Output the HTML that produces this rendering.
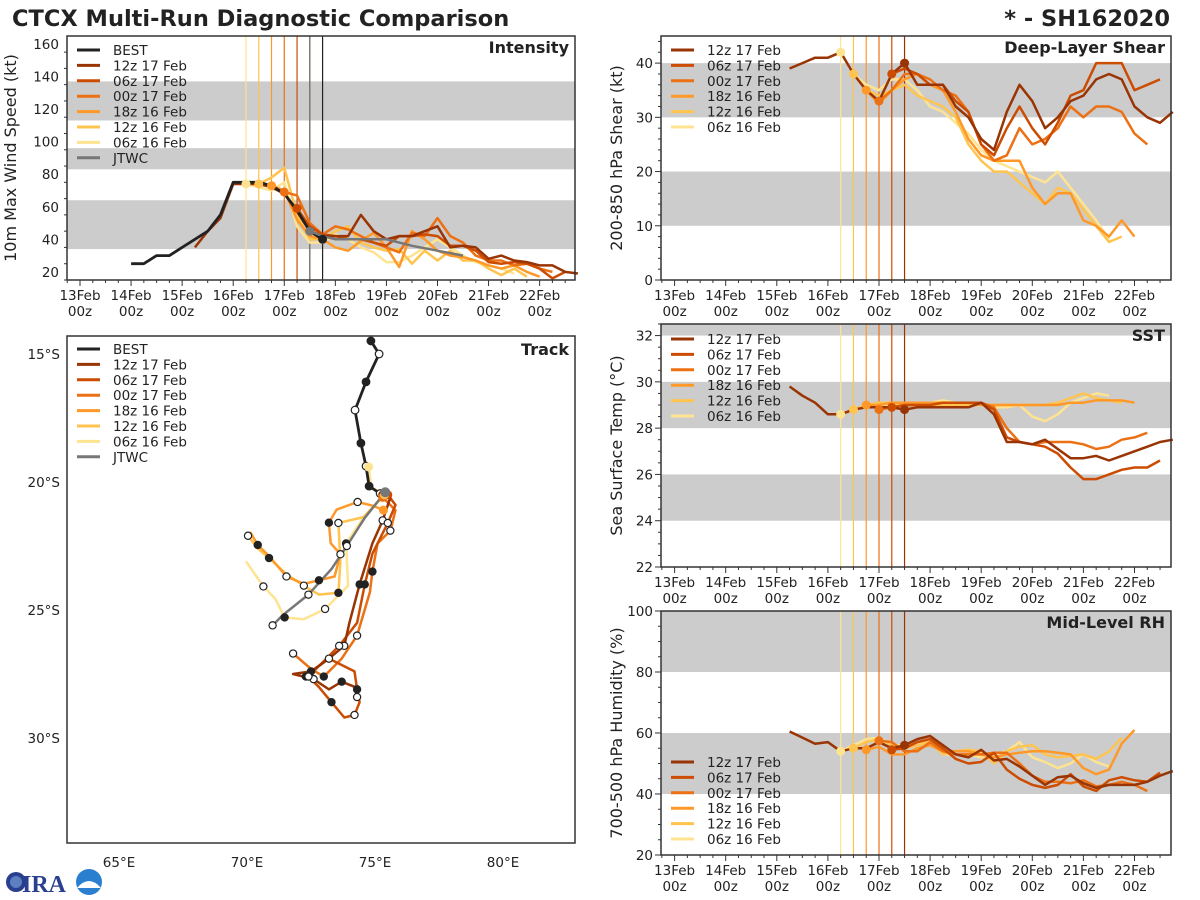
<!DOCTYPE html>
<html><head><meta charset="utf-8"><title>CTCX Multi-Run Diagnostic Comparison</title>
<style>
html,body{margin:0;padding:0;background:#fff;}
svg{display:block;font-family:"DejaVu Sans","Liberation Sans",sans-serif;}
</style></head>
<body>
<svg id="fig" width="1200" height="900" viewBox="0 0 1200 900" xmlns="http://www.w3.org/2000/svg">
<text x="12" y="26" font-size="22.5" font-weight="bold" fill="#222">CTCX Multi-Run Diagnostic Comparison</text>
<text x="1170" y="26" font-size="22.5" font-weight="bold" fill="#222" text-anchor="end">* - SH162020</text>
<g>
<circle cx="16" cy="882" r="10" fill="#2a3f8f"/>
<circle cx="16" cy="882" r="6" fill="#5b7fbf"/>
<text x="22" y="892" font-size="24" font-weight="bold" fill="#2a3f8f" font-family="Liberation Serif,serif">IRA</text>
<circle cx="89" cy="882" r="13" fill="#2b7fcf"/>
<path d="M77 888 Q89 874 101 888 Z" fill="#fff"/>
</g>
</svg>
<script>
const runLabels = ['12z 17 Feb','06z 17 Feb','00z 17 Feb','18z 16 Feb','12z 16 Feb','06z 16 Feb'];
const runColors = ['#993404','#cc4c02','#ec7014','#fe9929','#fec44f','#fee391'];
const runInits = [17.5,17.25,17.0,16.75,16.5,16.25];
const runStarts = [15.25,17.25,17.0,16.75,16.5,16.25];
const dayTicks = [13,14,15,16,17,18,19,20,21,22];
const dayTickLabels = ['13Feb','14Feb','15Feb','16Feb','17Feb','18Feb','19Feb','20Feb','21Feb','22Feb'];

const bestIntStart = 14.0;
const bestInt = [25,25,30,30,35,40,45,55,75,75,75,73,68,58,45,40];
const jtwcIntTimes = [17.5,17.75,18,18.5,19,19.5,20,20.5];
const jtwcInt = [45,42,40,40,40,36,33,30];
const int12z17 = [35,45,53,74,74,74,72,68,57,45,42,42,42,55,45,40,42,42,45,48,35,36,35,28,30,27,26,24,24,20,19];
const int06z17 = [59,48,43,42,40,40,38,36,42,42,43,42,36,36,33,26,25,26,25,22,16,20];
const int00z17 = [69,67,50,43,48,46,42,38,35,32,44,42,53,42,38,30,27,27,24,25,22,20];
const int18z16 = [73,70,52,42,40,35,33,39,44,35,23,45,40,33,30,29,27,24,22,24,20,17];
const int12z16 = [74,78,84,55,40,40,45,48,38,35,33,34,25,33,27,33,27,27,22,18,22,17];
const int06z16 = [74,72,70,75,48,38,38,43,40,35,32,26,26,30,35,40,35,30,26,24,22,19];

const shr12z17 = [39,40,41,41,42,38,35,33,38,40,36,36,36,32,30,26,24,31,36,33,28,30,33,34,37,38,37,32,30,29,31];
const shr06z17 = [38,39,38,36,36,33,31,25,23,28,32,28,25,29,34,35,40,40,40,35,36,37];
const shr00z17 = [33,35,38,38,37,35,34,31,25,22,23,28,25,26,28,32,30,32,32,31,27,25];
const shr18z16 = [35,32.5,35,37,38,36,35,31,26,23,22,22,22,17,14,16,16,11,10,8,11,8];
const shr12z16 = [38,35,34,35,36,34,33,32,30,25,22,20,20,18,16,14,17,16,13,10,7,8];
const shr06z16 = [42,38,36,35,37,37,35,32,31,29,27,24,22,21,20,19,18,20,17,14,11,7.5];

const sst12z17 = [29.8,29.4,29.1,28.6,28.6,28.8,28.9,28.9,28.9,28.8,28.9,28.9,28.9,28.9,28.9,29.1,28.6,27.4,27.4,27.3,27.5,27.1,26.7,26.7,26.8,26.6,26.8,27.0,27.2,27.4,27.5];
const sst06z17 = [28.9,29.0,29.0,29.0,29.1,29.1,29.1,29.1,28.8,27.6,27.4,27.3,27.2,26.9,26.3,25.8,25.8,26.0,26.2,26.3,26.3,26.6];
const sst00z17 = [28.8,28.9,29.0,29.0,29.0,29.1,29.1,29.1,29.1,28.9,28.0,27.4,27.3,27.4,27.4,27.4,27.3,27.1,27.2,27.5,27.6,27.8];
const sst18z16 = [29.0,29.0,29.1,29.1,29.1,29.1,29.1,29.1,29.1,29.0,29.0,29.0,29.0,29.0,29.0,29.0,29.1,29.1,29.2,29.2,29.2,29.1];
const sst12z16 = [28.8,29.0,29.1,29.1,29.0,29.0,29.0,29.0,29.0,29.0,29.0,29.0,29.0,29.0,29.0,29.0,29.1,29.3,29.5,29.3,29.2,29.1];
const sst06z16 = [28.6,28.8,28.9,29.0,29.0,29.1,29.1,29.1,29.2,29.1,29.0,29.0,28.9,28.9,29.0,28.5,28.3,28.6,29.1,29.3,29.5,29.4];

const rh12z17 = [60.5,58.5,56.5,57,54,55,55,57,55,56,58,59,56,53,52,54.5,51,51.5,49,46,43,45.5,46,43.5,42,43,43,43,44,46,47.5];
const rh06z17 = [54.5,55,57,58,55,51.5,50,50.5,53.5,48,45,43,42,43,46.5,42.5,41,44.5,45.5,44.5,44,47];
const rh00z17 = [57.5,57,54,54,57,54,53,53,53,53.5,53.5,50,46,44,44,43.5,44.5,42.5,43,44,43,41];
const rh18z16 = [54.5,55.5,53,53,55,56,54,54,54,53,52,53,53.5,54,54,53.5,53,48.5,46.5,48,56.5,61];
const rh12z16 = [55,57,58,56,55,56,57,53,54,54.5,54,50,54,55.5,56,53,52,52.5,53,51.5,54,58.5];
const rh06z16 = [54,56,58,58.5,56,56,56.5,57.5,53,53,53,52,53,54,57,52,50.5,48.5,50,53,50.5,49];

const trackBest = [[74.84,14.49],[75.16,15.0],[74.65,16.09],[74.22,17.19],[74.45,18.48],[74.65,19.38],[74.77,20.16],[75.2,20.45]];
const track12z17 = [[75.3,20.5],[75.6,20.6],[75.3,21.5],[74.9,22.4],[74.4,24.0],[74.0,25.5],[73.8,26.4],[73.2,26.9],[72.5,27.4],[71.8,27.5],[72.6,27.7],[73.2,28.1],[73.7,27.8],[74.2,28.0],[74.3,28.4]];
const track06z17 = [[75.5,20.5],[75.8,20.9],[75.5,21.6],[74.9,22.8],[74.6,24.0],[74.3,25.5],[73.6,26.4],[72.6,27.4],[72.3,27.6],[72.8,27.2],[73.2,26.9],[74.2,27.4],[74.3,28.1],[74.4,28.6],[74.2,29.1],[73.8,29.2],[73.3,28.6],[72.8,28.0],[72.4,27.6]];
const track00z17 = [[75.3,20.6],[75.8,21.1],[75.6,21.9],[75.1,22.4],[74.9,23.5],[74.8,24.3],[74.3,26.0],[73.7,26.9],[73.0,27.6],[72.5,27.3],[71.8,26.7]];
const track18z16 = [[75.33,21.1],[74.93,20.93],[74.32,20.78],[73.5,21.08],[73.2,21.59],[73.27,22.39],[73.65,22.82],[73.42,23.69],[72.81,23.84],[72.22,23.98],[71.54,23.69],[70.86,22.89],[70.42,22.46],[70.12,21.95]];
const track12z16 = [[75.37,20.5],[74.55,21.37],[73.57,21.6],[73.65,23.1],[73.57,24.33],[72.81,24.4],[72.22,24.05],[71.54,23.6],[70.86,22.97],[70.42,22.6],[70.04,22.1]];
const track06z16 = [[74.75,19.41],[74.85,20.2],[75.37,20.5],[74.47,21.5],[73.87,22.4],[73.95,24.05],[73.05,24.96],[72.22,25.36],[71.47,25.29],[71.1,24.56],[70.64,24.08],[69.96,23.1]];
const trackJtwc = [[75.4,20.4],[74.6,21.4],[73.9,22.5],[73.3,23.4],[72.4,24.4],[71.4,25.2],[71.0,25.6]];
const lonTicks = [65,70,75,80];
const latTicks = [15,20,25,30];

const NS='http://www.w3.org/2000/svg';
const fig=document.getElementById('fig');
function mk(tag,attrs,parent){const e=document.createElementNS(NS,tag);for(const k in attrs)e.setAttribute(k,attrs[k]);(parent||fig).appendChild(e);return e;}
function txt(s,attrs,parent){const e=mk('text',attrs,parent);e.textContent=s;return e;}

function tsPanel(cfg){
  const g=mk('g',{});
  
  
  const xs=d=>cfg.x0+(d-13)*cfg.ppd;
  const ys=v=>cfg.bottom-(v-cfg.ymin)/(cfg.ymax-cfg.ymin)*(cfg.bottom-cfg.top);
  mk('rect',{x:cfg.left,y:cfg.top,width:cfg.right-cfg.left,height:cfg.bottom-cfg.top,fill:'#fff'},g);
  cfg.bands.forEach(b=>{
    const r=mk('rect',{x:cfg.left,y:ys(Math.min(b[1],cfg.ymax)),width:cfg.right-cfg.left,height:ys(b[0])-ys(Math.min(b[1],cfg.ymax)),fill:'#cccccc'},g);
    
    
  });
  runInits.forEach((t,i)=>{
    const l=mk('line',{x1:xs(t),x2:xs(t),y1:cfg.top,y2:cfg.bottom,stroke:runColors[i],'stroke-width':1.2},g);
    
    
  });
  if(cfg.extraLines){cfg.extraLines.forEach(e=>{
    const l=mk('line',{x1:xs(e[0]),x2:xs(e[0]),y1:cfg.top,y2:cfg.bottom,stroke:e[1],'stroke-width':1.2},g);
    
    
  });}
  for(let i=cfg.series.length-1;i>=0;i--){
    const s=cfg.series[i];
    const pts=s.map((v,k)=>xs(runStarts[i]+k*0.25).toFixed(1)+','+ys(v).toFixed(1)).join(' ');
    const p=mk('polyline',{points:pts,fill:'none',stroke:runColors[i],'stroke-width':2.5,'stroke-linejoin':'round'},g);
    
    
  }
  if(cfg.best){
    const pts=cfg.best.map((v,k)=>xs(bestIntStart+k*0.25).toFixed(1)+','+ys(v).toFixed(1)).join(' ');
    const p=mk('polyline',{points:pts,fill:'none',stroke:'#222','stroke-width':2.8,'stroke-linejoin':'round'},g);
    
    
    const jp=cfg.jtwc.map((v,k)=>xs(jtwcIntTimes[k]).toFixed(1)+','+ys(v).toFixed(1)).join(' ');
    const j=mk('polyline',{points:jp,fill:'none',stroke:'#777','stroke-width':2.5},g);
    
    
  }
  for(let i=cfg.series.length-1;i>=0;i--){
    const idx=Math.round((runInits[i]-runStarts[i])*4);
    const c=mk('circle',{cx:xs(runInits[i]),cy:ys(cfg.series[i][idx]),r:4.5,fill:runColors[i]},g);
    
    
  }
  if(cfg.best){
    const c1=mk('circle',{cx:xs(jtwcIntTimes[0]),cy:ys(cfg.jtwc[0]),r:4.5,fill:'#777'},g);
    
    
    const n=cfg.best.length-1;
    const c2=mk('circle',{cx:xs(bestIntStart+n*0.25),cy:ys(cfg.best[n]),r:4.5,fill:'#222'},g);
    
    
  }
  mk('rect',{x:cfg.left,y:cfg.top,width:cfg.right-cfg.left,height:cfg.bottom-cfg.top,fill:'none',stroke:'#333','stroke-width':1.5},g);
  const xa=mk('g',{},g);
  
  
  for(let d=12.75;d<=23;d+=0.25){const x=xs(d);if(x<cfg.left||x>cfg.right)continue;
    const major=Math.abs(d-Math.round(d))<1e-6;
    mk('line',{x1:x,x2:x,y1:cfg.bottom,y2:cfg.bottom+(major?6:3),stroke:'#333','stroke-width':1},xa);}
  dayTicks.forEach((d,i)=>{
    const t=txt(dayTickLabels[i],{x:xs(d),y:cfg.bottom+20,'font-size':13.5,'text-anchor':'middle',fill:'#222'},xa);
    
    
    txt('00z',{x:xs(d),y:cfg.bottom+36,'font-size':13.5,'text-anchor':'middle',fill:'#222'},xa);
  });
  const ya=mk('g',{},g);
  
  
  for(let v=cfg.ymin;v<=cfg.ymax+1e-6;v+=cfg.minor){const y=ys(v);
    const major=Math.abs(v/cfg.major-Math.round(v/cfg.major))<1e-6;
    mk('line',{x1:cfg.left,x2:cfg.left-(major?6:3),y1:y,y2:y,stroke:'#333','stroke-width':1},ya);}
  cfg.yticks.forEach(v=>{
    const t=txt(String(v),{x:cfg.left-8,y:ys(v)+5,'font-size':13.5,'text-anchor':'end',fill:'#222'},ya);
    
    
  });
  const cy=(cfg.top+cfg.bottom)/2;
  const yt=txt(cfg.ylabel,{x:cfg.ylabX,y:cy,'font-size':16,'text-anchor':'middle',fill:'#222',transform:`rotate(-90 ${cfg.ylabX} ${cy})`},g);
  
  
  const tt=txt(cfg.title,{x:cfg.right-6,y:cfg.top+17,'font-size':16,'font-weight':'bold','text-anchor':'end',fill:'#222'},g);
  
  
  legend(g,cfg.left+10,cfg.legY,cfg.legendItems);
}
function legend(g,x,y,items){
  const lg=mk('g',{},g);
  
  
  items.forEach((it,i)=>{
    const yy=y+i*15.4;
    const e=mk('g',{},lg);
    
    
    mk('line',{x1:x,x2:x+23,y1:yy,y2:yy,stroke:it[1],'stroke-width':3},e);
    txt(it[0],{x:x+36,y:yy+5,'font-size':13.5,fill:'#222'},e);
  });
}
const runLegend=runLabels.map((l,i)=>[l,runColors[i]]);

tsPanel({name:'intensity-panel',left:67,right:575,top:36,bottom:280,x0:80,ppd:51.07,ymin:15,ymax:164.9,bands:[[34,64],[83,96],[113,137]],
  series:[int12z17,int06z17,int00z17,int18z16,int12z16,int06z16],best:bestInt,jtwc:jtwcInt,extraLines:[[17.5,'#777'],[17.75,'#222']],
  yticks:[20,40,60,80,100,120,140,160],major:20,minor:10,ylabel:'10m Max Wind Speed (kt)',ylabX:16,title:'Intensity',legY:50,
  legendItems:[['BEST','#222']].concat(runLegend,[['JTWC','#777']])});
tsPanel({name:'shear-panel',left:661,right:1171,top:36,bottom:280,x0:674.6,ppd:51.1,ymin:0,ymax:45,bands:[[10,20],[30,40]],
  series:[shr12z17,shr06z17,shr00z17,shr18z16,shr12z16,shr06z16],
  yticks:[0,10,20,30,40],major:10,minor:2,ylabel:'200-850 hPa Shear (kt)',ylabX:622,title:'Deep-Layer Shear',legY:50,legendItems:runLegend});
tsPanel({name:'sst-panel',left:661,right:1171,top:324,bottom:567,x0:674.6,ppd:51.1,ymin:22,ymax:32.5,bands:[[24,26],[28,30],[32,33]],
  series:[sst12z17,sst06z17,sst00z17,sst18z16,sst12z16,sst06z16],
  yticks:[22,24,26,28,30,32],major:2,minor:0.5,ylabel:'Sea Surface Temp (°C)',ylabX:622,title:'SST',legY:339,legendItems:runLegend});
tsPanel({name:'rh-panel',left:661,right:1171,top:611,bottom:855,x0:674.6,ppd:51.1,ymin:20,ymax:100,bands:[[40,60],[80,100]],
  series:[rh12z17,rh06z17,rh00z17,rh18z16,rh12z16,rh06z16],
  yticks:[20,40,60,80,100],major:20,minor:5,ylabel:'700-500 hPa Humidity (%)',ylabX:622,title:'Mid-Level RH',legY:762,legendItems:runLegend});

(function(){
  const g=mk('g',{});
  
  
  const L=67,R=575,T=336,B=843;
  const px=lon=>119+(lon-65)*25.6;
  const py=lat=>354+(lat-15)*25.6;
  mk('rect',{x:L,y:T,width:R-L,height:B-T,fill:'#fff'},g);
  function draw(tr,color,w,name){
    const p=mk('polyline',{points:tr.map(q=>px(q[0]).toFixed(1)+','+py(q[1]).toFixed(1)).join(' '),fill:'none',stroke:color,'stroke-width':w,'stroke-linejoin':'round'},g);
    
    
  }
  function dots(tr,start){
    tr.forEach((q,k)=>{if(k%2!==start%2||k===0)return;
      const filled=(k/2)%2<1;
      const c=mk('circle',{cx:px(q[0]),cy:py(q[1]),r:3.6,fill:filled?'#222':'#fff',stroke:'#222','stroke-width':1.2},g);
      
      
    });
  }
  const tracks=[track12z17,track06z17,track00z17,track18z16,track12z16,track06z16];
  for(let i=tracks.length-1;i>=0;i--)draw(tracks[i],runColors[i],2.5,'track-'+runLabels[i].replace(/ /g,'-').toLowerCase());
  draw(trackBest,'#222',2.8,'track-best');
  draw(trackJtwc,'#777',2.5,'track-jtwc');
  tracks.forEach((t,i)=>dots(t,0));
  trackBest.forEach((q,k)=>{
    const c=mk('circle',{cx:px(q[0]),cy:py(q[1]),r:3.8,fill:k%2===0?'#222':'#fff',stroke:'#222','stroke-width':1.2},g);
    
    
  });
  trackJtwc.forEach((q,k)=>{if(k===0||k%2)return;
    const c=mk('circle',{cx:px(q[0]),cy:py(q[1]),r:3.6,fill:'#fff',stroke:'#222','stroke-width':1.2},g);
    
    
  });
  tracks.forEach((t,i)=>{
    const c=mk('circle',{cx:px(t[0][0]),cy:py(t[0][1]),r:4.5,fill:runColors[i]},g);
    
    
  });
  const jc=mk('circle',{cx:px(trackJtwc[0][0]),cy:py(trackJtwc[0][1]),r:5,fill:'#777'},g);
  
  
  mk('rect',{x:L,y:T,width:R-L,height:B-T,fill:'none',stroke:'#333','stroke-width':1.5},g);
  lonTicks.forEach(v=>{const t=txt(v+'°E',{x:px(v),y:B+24,'font-size':13.5,'text-anchor':'middle',fill:'#222'},g);
    
    });
  latTicks.forEach(v=>{const t=txt(v+'°S',{x:L-7,y:py(v)+5,'font-size':13.5,'text-anchor':'end',fill:'#222'},g);
    
    });
  const tt=txt('Track',{x:R-6,y:T+19,'font-size':16,'font-weight':'bold','text-anchor':'end',fill:'#222'},g);
  
  
  legend(g,L+10,349,[['BEST','#222']].concat(runLegend,[['JTWC','#777']]));
})();
</script>
</body></html>
